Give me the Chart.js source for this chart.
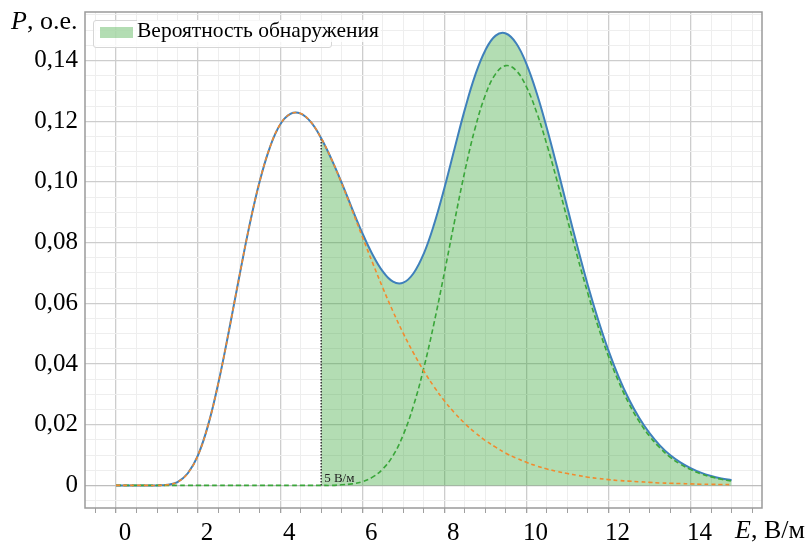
<!DOCTYPE html>
<html lang="ru">
<head>
<meta charset="utf-8">
<script src="https://cdn.jsdelivr.net/npm/chart.js@4/dist/chart.umd.min.js"></script>
<style>
  body { margin: 0; background: #fff; }
  #wrap { position: relative; width: 810px; height: 547px; }
  .lbl { position: absolute; font-family: "Liberation Serif", serif; color: #000; line-height: 1; white-space: nowrap; }
  #legend { position: absolute; left: 93px; top: 20px; width: 239px; height: 28px;
            border: 1px solid #d6d6d6; border-radius: 3px; background: rgba(255,255,255,0.8); box-sizing: border-box; }
  #legPatch { position: absolute; left: 100px; top: 27px; width: 33px; height: 11px; background: rgba(44,160,44,0.36); }
  #legText { left: 137px; top: 20px; font-size: 21.5px; background: rgba(255,255,255,0.8); padding-right: 2px; }
</style>
</head>
<body>
<div id="wrap">
  <canvas id="grafik"></canvas>
  <div id="legend"></div>
  <div id="legPatch"></div>
  <div class="lbl" id="legText">Вероятность обнаружения</div>
  <div class="lbl" style="left:11px; top:8px; font-size:26px;"><i>P</i>, о.е.</div>
  <div class="lbl" style="left:735px; top:517px; font-size:26px;"><i>E</i>, В/м</div>
</div>
<script>
// ---- данные (E, В/м; P, о.е.) ----
const E = [
  0, 0.25, 0.5, 0.75, 1, 1.25, 1.5, 1.75, 2, 2.25, 2.5, 2.75, 3, 3.25, 3.5, 3.75,
  4, 4.25, 4.5, 4.75, 5, 5.25, 5.5, 5.75, 6, 6.25, 6.5, 6.75, 7, 7.25, 7.5, 7.75,
  8, 8.25, 8.5, 8.75, 9, 9.25, 9.5, 9.75, 10, 10.25, 10.5, 10.75, 11, 11.25, 11.5, 11.75,
  12, 12.25, 12.5, 12.75, 13, 13.25, 13.5, 13.75, 14, 14.25, 14.5, 14.75, 15
];

// суммарная кривая (синяя)
const pSum = [
  0, 0, 0, 0, 0, 0.0002, 0.0011, 0.004, 0.01, 0.0201, 0.0341, 0.0508, 0.0685, 0.0855, 0.1001, 0.1114,
  0.1189, 0.1224, 0.1225, 0.1197, 0.1144, 0.1075, 0.0997, 0.0913, 0.0832, 0.0761, 0.0705, 0.0671, 0.0668, 0.0699, 0.0764, 0.086,
  0.0979, 0.111, 0.1239, 0.1351, 0.1434, 0.1482, 0.1489, 0.1457, 0.1389, 0.1293, 0.1176, 0.1048, 0.0914, 0.0783, 0.0658, 0.0545,
  0.0444, 0.0357, 0.0283, 0.0222, 0.0172, 0.0132, 0.01, 0.0076, 0.0057, 0.0042, 0.0031, 0.0023, 0.0017
];

// первая составляющая (оранжевая)
const pFon = [
  0, 0, 0, 0, 0, 0.0002, 0.0011, 0.004, 0.01, 0.0201, 0.0341, 0.0508, 0.0685, 0.0855, 0.1001, 0.1114,
  0.1189, 0.1224, 0.1225, 0.1197, 0.1144, 0.1075, 0.0995, 0.0908, 0.082, 0.0734, 0.0651, 0.0573, 0.0501, 0.0436, 0.0377, 0.0325,
  0.0279, 0.0239, 0.0204, 0.0174, 0.0148, 0.0126, 0.0106, 0.009, 0.0076, 0.0064, 0.0054, 0.0046, 0.0039, 0.0033, 0.0027, 0.0023,
  0.0019, 0.0016, 0.0014, 0.0012, 0.001, 0.0008, 0.0007, 0.0006, 0.0005, 0.0004, 0.00035, 0.0003, 0.00025
];

// вторая составляющая (зелёная)
const pCel = [
  0, 0, 0, 0, 0, 0, 0, 0, 0, 0, 0, 0, 0, 0, 0, 0,
  0, 0, 0, 0, 0, 0, 0.0002, 0.0005, 0.0012, 0.0027, 0.0054, 0.0098, 0.0167, 0.0263, 0.0387, 0.0535,
  0.07, 0.0871, 0.1035, 0.1177, 0.1286, 0.1356, 0.1383, 0.1367, 0.1313, 0.1229, 0.1122, 0.1002, 0.0875, 0.075, 0.0631, 0.0522,
  0.0425, 0.0341, 0.0269, 0.021, 0.0162, 0.0124, 0.0093, 0.007, 0.0052, 0.0038, 0.0028, 0.002, 0.0014
];

const porog = 5;              // порог, В/м
const porogText = "5 В/м";
const legendText = "Вероятность обнаружения";

const xTicks = [0, 2, 4, 6, 8, 10, 12, 14];
const yTicks = [0, 0.02, 0.04, 0.06, 0.08, 0.10, 0.12, 0.14];

// ---- подготовка ----
const pts = arr => E.map((e, i) => ({ x: e, y: arr[i] }));
const zalivka = E.map((e, i) => ({ x: e, y: pSum[i] })).filter(p => p.x >= porog);
const porogY = pSum[E.indexOf(porog)];

const FONT = '"Liberation Serif", "Times New Roman", serif';

const xMajor = v => xTicks.some(t => Math.abs(t - v) < 1e-6);
const yMajor = v => yTicks.some(t => Math.abs(t - v) < 1e-7);

// рамка и подпись порога
const ramka = {
  id: "ramka",
  afterDatasetsDraw(chart) {
    const { ctx, chartArea: a, scales } = chart;
    ctx.save();
    ctx.font = "13px " + FONT;
    ctx.fillStyle = "#222";
    ctx.textBaseline = "alphabetic";
    ctx.fillText(porogText, scales.x.getPixelForValue(porog) + 3, scales.y.getPixelForValue(0) - 3);
    ctx.strokeStyle = "#9a9a9a";
    ctx.lineWidth = 1.5;
    ctx.strokeRect(a.left, a.top, a.right - a.left, a.bottom - a.top);
    ctx.restore();
  }
};

const linia = { fill: false, pointRadius: 0, tension: 0.4 };

new Chart(document.getElementById("grafik"), {
  type: "line",
  data: {
    datasets: [
      {
        ...linia,
        label: legendText,
        data: zalivka,
        borderWidth: 0,
        backgroundColor: "rgba(44,160,44,0.36)",
        fill: "origin",
        order: 5
      },
      {
        ...linia,
        label: "Сумма",
        data: pts(pSum),
        borderColor: "#3f80bb",
        borderWidth: 2,
        order: 4
      },
      {
        ...linia,
        label: "Порог",
        data: [{ x: porog, y: 0 }, { x: porog, y: porogY }],
        borderColor: "#333",
        borderWidth: 1.5,
        borderDash: [1.5, 1.5],
        tension: 0,
        order: 3
      },
      {
        ...linia,
        label: "Цель",
        data: pts(pCel),
        borderColor: "#3aa63a",
        borderWidth: 1.6,
        borderDash: [5, 3],
        order: 2
      },
      {
        ...linia,
        label: "Фон",
        data: pts(pFon),
        borderColor: "#f28a2e",
        borderWidth: 1.6,
        borderDash: [4, 3],
        order: 1
      }
    ]
  },
  options: {
    responsive: true,
    maintainAspectRatio: false,
    animation: false,
    layout: { padding: { left: 0, top: 12, right: 48, bottom: 0 } },
    plugins: {
      legend: { display: false },
      tooltip: { enabled: false }
    },
    scales: {
      x: {
        type: "linear",
        min: -0.755,
        max: 15.74,
        border: { display: false },
        grid: {
          color: c => (c.tick && xMajor(c.tick.value)) ? "#cdcdcd" : "#eeeeee",
          lineWidth: c => (c.tick && xMajor(c.tick.value)) ? 1.3 : 1,
          tickColor: "#a0a0a0",
          tickLength: 5
        },
        ticks: {
          stepSize: 0.5,
          autoSkip: false,
          includeBounds: false,
          maxRotation: 0,
          labelOffset: 9,
          padding: 5,
          color: "#000",
          font: { family: FONT, size: 25 },
          callback: v => xMajor(v) ? String(Math.round(v)) : ""
        },
        afterFit: s => { s.height = 39; s.paddingLeft = 0; s.paddingRight = 0; }
      },
      y: {
        min: -0.00745,
        max: 0.15598,
        border: { display: false },
        grid: {
          color: c => (c.tick && yMajor(c.tick.value)) ? (Math.abs(c.tick.value) < 1e-9 ? "#bdbdbd" : "#cdcdcd") : "#eeeeee",
          lineWidth: c => (c.tick && yMajor(c.tick.value)) ? 1.3 : 1,
          drawTicks: false
        },
        ticks: {
          stepSize: 0.005,
          autoSkip: false,
          includeBounds: false,
          padding: 7,
          color: "#000",
          font: { family: FONT, size: 25 },
          callback: v => {
            if (!yMajor(v)) return "";
            if (Math.abs(v) < 1e-9) return "0";
            return v.toFixed(2).replace(".", ",");
          }
        },
        afterFit: s => { s.width = 85; s.paddingTop = 0; s.paddingBottom = 0; }
      }
    }
  },
  plugins: [ramka]
});
</script>
</body>
</html>
